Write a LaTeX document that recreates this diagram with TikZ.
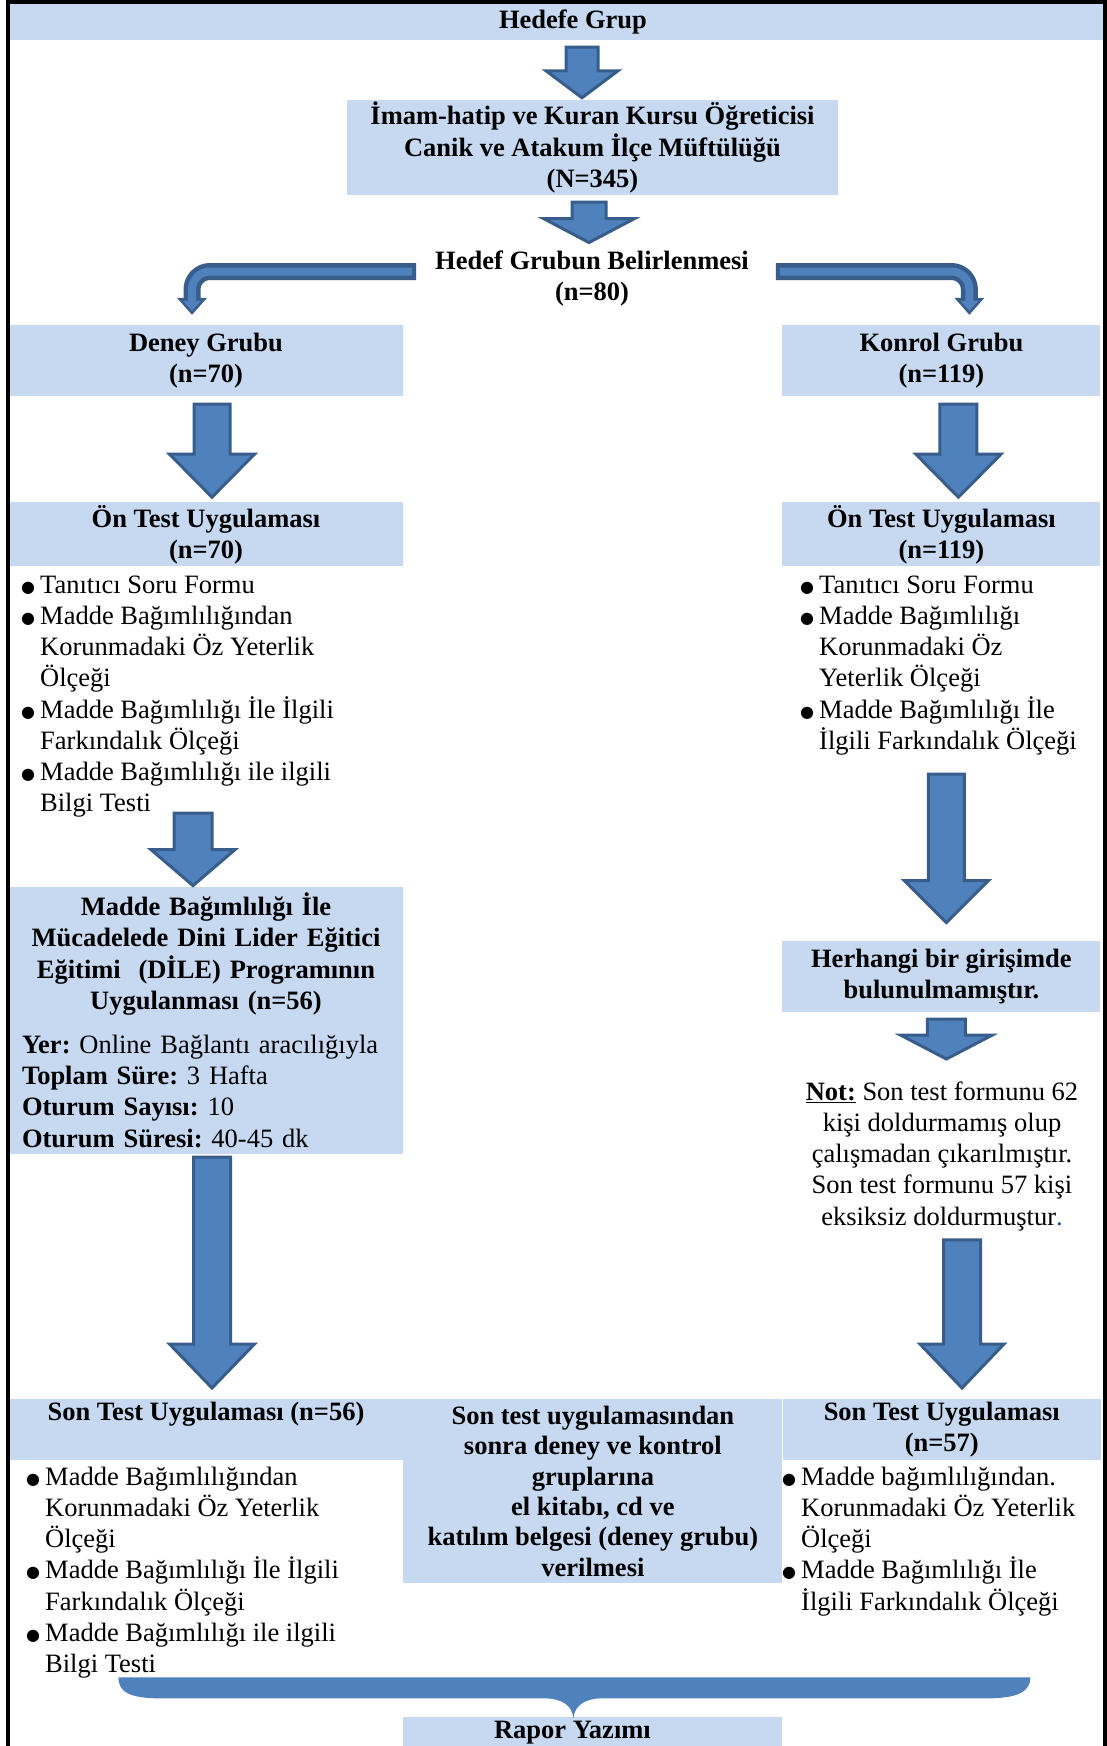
\documentclass[tikz,border=0pt]{standalone}
\usepackage{fontspec}
\setmainfont{Liberation Serif}
\newfontfamily\symfont{DejaVu Sans}
\usetikzlibrary{positioning, calc, arrows.meta}

\definecolor{boxblue}{HTML}{C6D9F1}
\definecolor{arrowfill}{HTML}{4F81BD}
\definecolor{arrowedge}{HTML}{385D8A}
\definecolor{dotblue}{HTML}{1F497D}

\frenchspacing
\newcommand{\itm}{\makebox[19pt][l]{\raisebox{1pt}{\symfont\fontsize{16}{0}\selectfont ●}}}
\newcommand{\cnt}{\hspace*{19pt}}
\newcommand{\fst}{\rule{0pt}{23pt}}

\begin{document}
\begin{tikzpicture}[x=1pt, y=-1pt,
  every node/.style={font=\fontsize{26.5}{31.2}\selectfont, inner sep=0pt}]
\tikzset{box/.style={rectangle, fill=boxblue, align=center, font=\fontsize{26.5}{31.2}\selectfont\bfseries},
  list/.style={anchor=north west, align=left},
  fat/.style n args={3}{fill=arrowfill, draw=arrowedge, line width=3pt,
    to path={let \p1=(\tikztostart), \p2=(\tikztotarget) in
      (\x1-#1,\y1) -- (\x1+#1,\y1) -- (\x1+#1,\y2+#3) -- (\x1+#2,\y2+#3)
      -- (\x1,\y2) -- (\x1-#2,\y2+#3) -- (\x1-#1,\y2+#3) -- cycle}},
  bentedge/.style={draw=arrowedge, line width=17pt, rounded corners=18pt,
    -{Triangle[width=30pt,length=17pt,line width=0pt]}},
  bentfill/.style={draw=arrowfill, line width=8pt, rounded corners=18pt, shorten >=4pt, shorten <=4pt,
    -{Triangle[width=18pt,length=10pt,line width=0pt]}}}

\useasboundingbox (0,0) rectangle (1107,1746);

  \node [box, minimum width=1093pt, minimum height=37pt] (hedefe) at (556.5,21.5) {\hspace*{33pt}Hedefe Grup};
  \node [box, minimum width=491pt, minimum height=95pt] (imam) at (592.5,147.5) {İmam-hatip ve Kuran Kursu Öğreticisi\\Canik ve Atakum İlçe Müftülüğü\hspace*{23pt}\\(N=345)};
  \node [align=center, font=\fontsize{26.5}{31.2}\selectfont\bfseries] (belirle) at (592,278.5) {Hedef Grubun Belirlenmesi\\(n=80)};

  \node [box, minimum width=394pt, minimum height=71pt] (deney) at (206,360.5) {Deney Grubu\\(n=70)};
  \node [box, minimum width=318pt, minimum height=71pt, right=379pt of deney] (kontrol) {Konrol Grubu\\(n=119)};

  \node [box, minimum width=394pt, minimum height=64pt, below=106pt of deney] (onleft) {Ön Test Uygulaması\\(n=70)};
  \node [box, minimum width=318pt, minimum height=64pt, below=106pt of kontrol] (onright) {Ön Test Uygulaması\\(n=119)};

  \node [list] (listleft) at (21,570) {\fst\itm Tanıtıcı Soru Formu\\
    \itm Madde Bağımlılığından\\ \cnt Korunmadaki Öz Yeterlik\\ \cnt Ölçeği\\
    \itm Madde Bağımlılığı İle İlgili\\ \cnt Farkındalık Ölçeği\\
    \itm Madde Bağımlılığı ile ilgili\\ \cnt Bilgi Testi};
  \node [list] (listright) at (800,570) {\fst\itm Tanıtıcı Soru Formu\\
    \itm Madde Bağımlılığı\\ \cnt Korunmadaki Öz\\ \cnt Yeterlik Ölçeği\\
    \itm Madde Bağımlılığı İle\\ \cnt İlgili Farkındalık Ölçeği};

  \node [box, font=\fontsize{26.5}{31.2}\selectfont, text width=368pt, inner xsep=13pt, minimum height=267pt, align=left, below=320pt of onleft] (madde) {{\centering\bfseries Madde Bağımlılığı İle\\ Mücadelede Dini Lider Eğitici\\ Eğitimi\ \ (DİLE) Programının\\ Uygulanması (n=56)\par}\vspace{13pt}\noindent
    \textbf{Yer:} Online Bağlantı aracılığıyla\\
    \textbf{Toplam Süre:} 3 Hafta\\
    \textbf{Oturum Sayısı:} 10\\
    \textbf{Oturum Süresi:} 40-45 dk};

  \node [box, minimum width=318pt, minimum height=71.5pt, below=374pt of onright] (herhangi) {Herhangi bir girişimde\\bulunulmamıştır.};
  \node [align=center, anchor=north] (not) at (942,1077) {\fst\underline{\textbf{Not:}} Son test formunu 62\\kişi doldurmamış olup\\çalışmadan çıkarılmıştır.\\Son test formunu 57 kişi\\eksiksiz doldurmuştur{\color{dotblue}.}};

  \node [box, font=\fontsize{26.5}{30.3}\selectfont\bfseries, minimum width=394pt, minimum height=61pt, below=245pt of madde] (sonleft) {Son Test Uygulaması (n=56)\\\phantom{(n=56)}};
  \node [box, font=\fontsize{26.5}{30.3}\selectfont\bfseries, minimum width=379pt, minimum height=184pt, anchor=north west] (sonmid) at (sonleft.north east) {Son test uygulamasından\\sonra deney ve kontrol\\gruplarına\\el kitabı, cd ve\\katılım belgesi (deney grubu)\\verilmesi};
  \node [box, font=\fontsize{26.5}{30.3}\selectfont\bfseries, minimum width=318pt, minimum height=61pt, anchor=north west] (sonright) at (sonmid.north east) {Son Test Uygulaması\\(n=57)};

  \node [list] (listleft2) at (26,1462) {\fst\itm Madde Bağımlılığından\\ \cnt Korunmadaki Öz Yeterlik\\ \cnt Ölçeği\\
    \itm Madde Bağımlılığı İle İlgili\\ \cnt Farkındalık Ölçeği\\
    \itm Madde Bağımlılığı ile ilgili\\ \cnt Bilgi Testi};
  \node [list] (listright2) at (782,1462) {\fst\itm Madde bağımlılığından.\\ \cnt Korunmadaki Öz Yeterlik\\ \cnt Ölçeği\\
    \itm Madde Bağımlılığı İle\\ \cnt İlgili Farkındalık Ölçeği};

  \node [box, minimum width=379pt, minimum height=32pt, below=133pt of sonmid] (rapor) {\hspace*{-41pt}Rapor Yazımı};

\path [fat={16pt}{36pt}{27pt}] ([xshift=25.5pt,yshift=-7pt]hedefe.south) to ([yshift=2pt]imam.north);
\path [fat={17pt}{45.5pt}{24pt}] ([xshift=-3.5pt,yshift=-7pt]imam.south) to ([yshift=8pt]belirle.north);

\draw [bentedge] ([xshift=-19pt,yshift=7pt]belirle.west) -| ([xshift=-14pt,yshift=10pt]deney.north);
\draw [bentfill] ([xshift=-19pt,yshift=7pt]belirle.west) -| ([xshift=-14pt,yshift=10pt]deney.north);
\draw [bentedge] ([xshift=27pt,yshift=7pt]belirle.east) -| ([xshift=28pt,yshift=10pt]kontrol.north);
\draw [bentfill] ([xshift=27pt,yshift=7pt]belirle.east) -| ([xshift=28pt,yshift=10pt]kontrol.north);

\path [fat={18pt}{42.5pt}{43pt}] ([xshift=6pt,yshift=-8pt]deney.south) to ([yshift=5pt]onleft.north);
\path [fat={18.5pt}{42.5pt}{43pt}] ([xshift=17pt,yshift=-8pt]kontrol.south) to ([yshift=5pt]onright.north);

\path [fat={19pt}{42pt}{36pt}] ([xshift=-13pt,yshift=4.5pt]madde.north |- listleft.south) to ([yshift=1pt]madde.north);
\path [fat={18pt}{42pt}{42pt}] ([xshift=5pt,yshift=-19pt]herhangi.north |- listright.south) to ([yshift=18pt]herhangi.north);
\path [fat={19pt}{46pt}{24pt}] ([xshift=5pt,yshift=-6.5pt]herhangi.south) to ([yshift=18pt]not.north);

\path [fat={18.5pt}{42.5pt}{44pt}] ([xshift=6pt,yshift=-3pt]madde.south) to ([yshift=11pt]sonleft.north);
\path [fat={18.5pt}{42pt}{44pt}] ([xshift=20pt,yshift=-9pt]not.south) to ([yshift=11pt]sonright.north);

% brace down to the report box
\coordinate (bracetip) at ([xshift=-19.5pt,yshift=-2pt]rapor.north);
\begin{scope}[shift={(bracetip)}]
\fill [arrowfill] (-455,-41) -- (457,-41) .. controls (457,-27) and (445,-20) .. (412,-20) -- (28,-20)
  .. controls (12,-20) and (1,-13) .. (0,0) .. controls (-1,-13) and (-12,-20) .. (-28,-20)
  -- (-412,-20) .. controls (-445,-20) and (-455,-27) .. (-455,-41) -- cycle;
\end{scope}

\draw [line width=4pt] (8,1746) |- (1105,2) -- (1105,1746);

\end{tikzpicture}
\end{document}
